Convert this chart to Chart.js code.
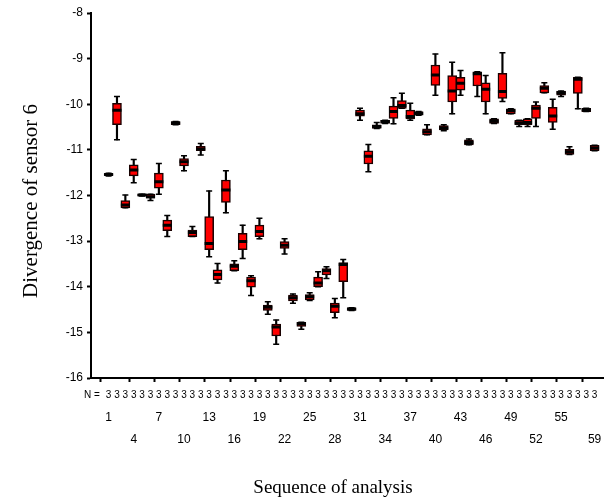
<!DOCTYPE html>
<html>
<head>
<meta charset="utf-8">
<script src="https://cdn.jsdelivr.net/npm/chart.js@4.4.1/dist/chart.umd.min.js"></script>
<style>
    html, body { margin: 0; padding: 0; background: #fff; }
    #wrap { width: 611px; height: 499px; }
</style>
</head>
<body>
<div id="wrap"><canvas id="boxChart" width="611" height="499"></canvas></div>
<script>
// ==========================================
// DADOS
// ==========================================
const categories = [
    1, 2, 3, 4, 5, 6, 7, 8, 9, 10, 11, 12, 13, 14, 15, 16, 17, 18, 19, 20,
    21, 22, 23, 24, 25, 26, 27, 28, 29, 30, 31, 32, 33, 34, 35, 36, 37, 38, 39, 40,
    41, 42, 43, 44, 45, 46, 47, 48, 49, 50, 51, 52, 53, 54, 55, 56, 57, 58, 59
];

const whiskerLow = [
    -11.57, -10.78, -12.27, -11.72, -12.01, -12.11, -11.97, -12.90, -10.45, -11.46,
    -12.90, -11.11, -13.34, -13.92, -12.38, -13.65, -13.38, -14.19, -12.95, -14.60,
    -15.26, -13.28, -14.36, -14.93, -14.30, -14.00, -13.82, -14.68, -14.24, -14.52,
    -10.35, -11.48, -10.53, -10.42, -10.43, -10.09, -10.35, -10.24, -10.67, -9.80,
    -10.58, -10.21, -9.80, -10.89, -9.83, -10.21, -10.42, -9.94, -10.21, -10.49,
    -10.49, -10.49, -9.75, -10.55, -9.83, -11.10, -10.10, -10.16, -11.02
];
const q1 = [
    -11.56, -10.45, -12.27, -11.57, -12.01, -12.06, -11.84, -12.77, -10.45, -11.35,
    -12.90, -11.02, -13.19, -13.85, -12.15, -13.65, -13.19, -14.01, -12.90, -14.52,
    -15.08, -13.16, -14.31, -14.87, -14.29, -14.00, -13.74, -14.57, -13.89, -14.52,
    -10.26, -11.31, -10.53, -10.42, -10.31, -10.09, -10.32, -10.24, -10.67, -9.59,
    -10.56, -9.95, -9.69, -10.89, -9.60, -9.95, -10.42, -9.87, -10.21, -10.45,
    -10.45, -10.31, -9.75, -10.40, -9.80, -11.10, -9.76, -10.16, -11.02
];
const median = [
    -11.54, -10.13, -12.21, -11.44, -11.99, -12.03, -11.70, -12.65, -10.41, -11.26,
    -12.81, -10.98, -13.05, -13.73, -11.88, -13.55, -13.01, -13.87, -12.79, -14.45,
    -14.88, -13.09, -14.24, -14.81, -14.22, -13.92, -13.65, -14.43, -13.51, -14.49,
    -10.21, -11.14, -10.49, -10.38, -10.16, -10.03, -10.27, -10.20, -10.60, -9.36,
    -10.52, -9.71, -9.54, -10.84, -9.33, -9.67, -10.37, -9.72, -10.14, -10.41,
    -10.40, -10.09, -9.65, -10.26, -9.75, -11.04, -9.45, -10.12, -10.96
];
const q3 = [
    -11.52, -9.98, -12.11, -11.33, -11.97, -11.97, -11.51, -12.54, -10.38, -11.19,
    -12.76, -10.92, -12.46, -13.63, -11.66, -13.50, -12.83, -13.79, -12.65, -14.40,
    -14.82, -13.01, -14.18, -14.78, -14.17, -13.79, -13.60, -14.36, -13.47, -14.46,
    -10.13, -11.02, -10.45, -10.35, -10.04, -9.92, -10.13, -10.16, -10.54, -9.14,
    -10.47, -9.37, -9.41, -10.78, -9.29, -9.53, -10.32, -9.32, -10.10, -10.35,
    -10.32, -10.02, -9.59, -10.07, -9.71, -10.99, -9.41, -10.09, -10.90
];
const whiskerHigh = [
    -11.51, -9.83, -11.99, -11.21, -11.97, -11.97, -11.30, -12.44, -10.38, -11.13,
    -12.68, -10.86, -11.90, -13.49, -11.46, -13.43, -12.65, -13.76, -12.50, -14.33,
    -14.73, -12.95, -14.16, -14.78, -14.13, -13.67, -13.56, -14.26, -13.40, -14.46,
    -10.09, -10.88, -10.40, -10.35, -9.86, -9.76, -9.98, -10.16, -10.45, -8.90,
    -10.45, -9.08, -9.26, -10.76, -9.29, -9.37, -10.32, -8.87, -10.10, -10.35,
    -10.32, -9.95, -9.53, -9.89, -9.71, -10.93, -9.41, -10.09, -10.90
];

// N por grupo (linha "N =")
const groupN = [
    3, 3, 3, 3, 3, 3, 3, 3, 3, 3, 3, 3, 3, 3, 3, 3, 3, 3, 3, 3,
    3, 3, 3, 3, 3, 3, 3, 3, 3, 3, 3, 3, 3, 3, 3, 3, 3, 3, 3, 3,
    3, 3, 3, 3, 3, 3, 3, 3, 3, 3, 3, 3, 3, 3, 3, 3, 3, 3, 3
];

// rótulos do eixo x (duas linhas alternadas) e marcas
const labelTicks = [1, 4, 7, 10, 13, 16, 19, 22, 25, 28, 31, 34, 37, 40, 43, 46, 49, 52, 55, 59];
const tickMarks = [1, 4, 7, 10, 13, 16, 19, 22, 25, 28, 31, 34, 37, 40, 43, 46, 49, 52, 55, 58];

const X_MIN = -1.1;
const X_MAX = 60.06;

// ==========================================
// TÍTULOS DOS EIXOS (centrados na figura inteira, como no original)
// ==========================================
const axisTitles = {
    id: 'axisTitles',
    afterDraw(chart) {
        const c = chart.ctx;
        c.save();
        c.fillStyle = '#000';
        c.textAlign = 'center';
        c.textBaseline = 'middle';
        c.font = '19px "Liberation Serif"';
        c.fillText('Sequence of analysis', 333, 488);
        c.translate(31, 201);
        c.rotate(-Math.PI / 2);
        c.font = '21px "Liberation Serif"';
        c.fillText('Divergence of sensor 6', 0, 0);
        c.restore();
    }
};

// ==========================================
// GRÁFICO
// ==========================================
const ctx = document.getElementById('boxChart').getContext('2d');

const myChart = new Chart(ctx, {
    type: 'bar',
    data: {
        datasets: [
            {
                // bigodes
                type: 'bar',
                data: categories.map((c, i) => ({ x: c, y: [whiskerLow[i], whiskerHigh[i]] })),
                backgroundColor: '#000',
                barThickness: 1.5,
                grouped: false,
                order: 3
            },
            {
                // caixas
                type: 'bar',
                data: categories.map((c, i) => ({ x: c, y: [q1[i], q3[i]] })),
                backgroundColor: '#ff0000',
                borderColor: '#1a0000',
                borderWidth: 1.5,
                borderSkipped: false,
                barThickness: 9,
                grouped: false,
                order: 2
            },
            {
                // medianas
                type: 'scatter',
                data: categories.map((c, i) => ({ x: c, y: median[i] })),
                pointStyle: 'line',
                radius: 4.5,
                borderWidth: 3,
                borderColor: '#000',
                order: 1
            },
            {
                // tampas de baixo
                type: 'scatter',
                data: categories.map((c, i) => ({ x: c, y: whiskerLow[i] })),
                pointStyle: 'line',
                radius: 3,
                borderWidth: 1.5,
                borderColor: '#000',
                order: 1
            },
            {
                // tampas de cima
                type: 'scatter',
                data: categories.map((c, i) => ({ x: c, y: whiskerHigh[i] })),
                pointStyle: 'line',
                radius: 3,
                borderWidth: 1.5,
                borderColor: '#000',
                order: 1
            }
        ]
    },
    options: {
        responsive: false,
        animation: false,
        layout: { padding: { top: 13, left: 0, right: 0, bottom: 0 } },
        plugins: {
            legend: { display: false },
            tooltip: { enabled: false }
        },
        scales: {
            x: {
                type: 'linear',
                position: 'bottom',
                min: X_MIN,
                max: X_MAX,
                offset: false,
                weight: 1,
                afterBuildTicks: (s) => {
                    s.ticks = [{ value: -1 }].concat(categories.map(v => ({ value: v })));
                },
                ticks: {
                    autoSkip: false,
                    maxRotation: 0,
                    padding: 7,
                    color: '#000',
                    font: { family: 'Liberation Sans', size: 10 },
                    callback: (v) => v === -1 ? 'N =' : String(groupN[categories.indexOf(v)])
                },
                grid: {
                    drawOnChartArea: false,
                    tickLength: 4,
                    tickWidth: 2,
                    tickColor: (c) => (c.tick && tickMarks.includes(c.tick.value)) ? '#000' : 'rgba(0,0,0,0)'
                },
                border: { display: true, color: '#000', width: 2 },
                afterFit: (s) => { s.height = 26; }
            },
            xLab: {
                type: 'linear',
                position: 'bottom',
                min: X_MIN,
                max: X_MAX,
                offset: false,
                weight: 2,
                afterBuildTicks: (s) => {
                    s.ticks = labelTicks.map(v => ({ value: v }));
                },
                ticks: {
                    autoSkip: false,
                    maxRotation: 0,
                    padding: 3,
                    color: '#000',
                    font: { family: 'Liberation Sans', size: 12, lineHeight: 22 / 12 },
                    callback: (v) => labelTicks.indexOf(v) % 2 === 0 ? [String(v), ''] : ['', String(v)]
                },
                grid: { display: false, drawTicks: false },
                border: { display: false },
                afterFit: (s) => { s.height = 95; }
            },
            y: {
                min: -16,
                max: -8,
                ticks: {
                    stepSize: 1,
                    padding: 4,
                    color: '#000',
                    font: { family: 'Liberation Sans', size: 12 }
                },
                grid: {
                    drawOnChartArea: false,
                    tickLength: 4,
                    tickWidth: 2,
                    tickColor: '#000'
                },
                border: { display: true, color: '#000', width: 2 },
                afterFit: (s) => { s.width = 91; }
            }
        }
    },
    plugins: [axisTitles]
});
</script>
</body>
</html>
